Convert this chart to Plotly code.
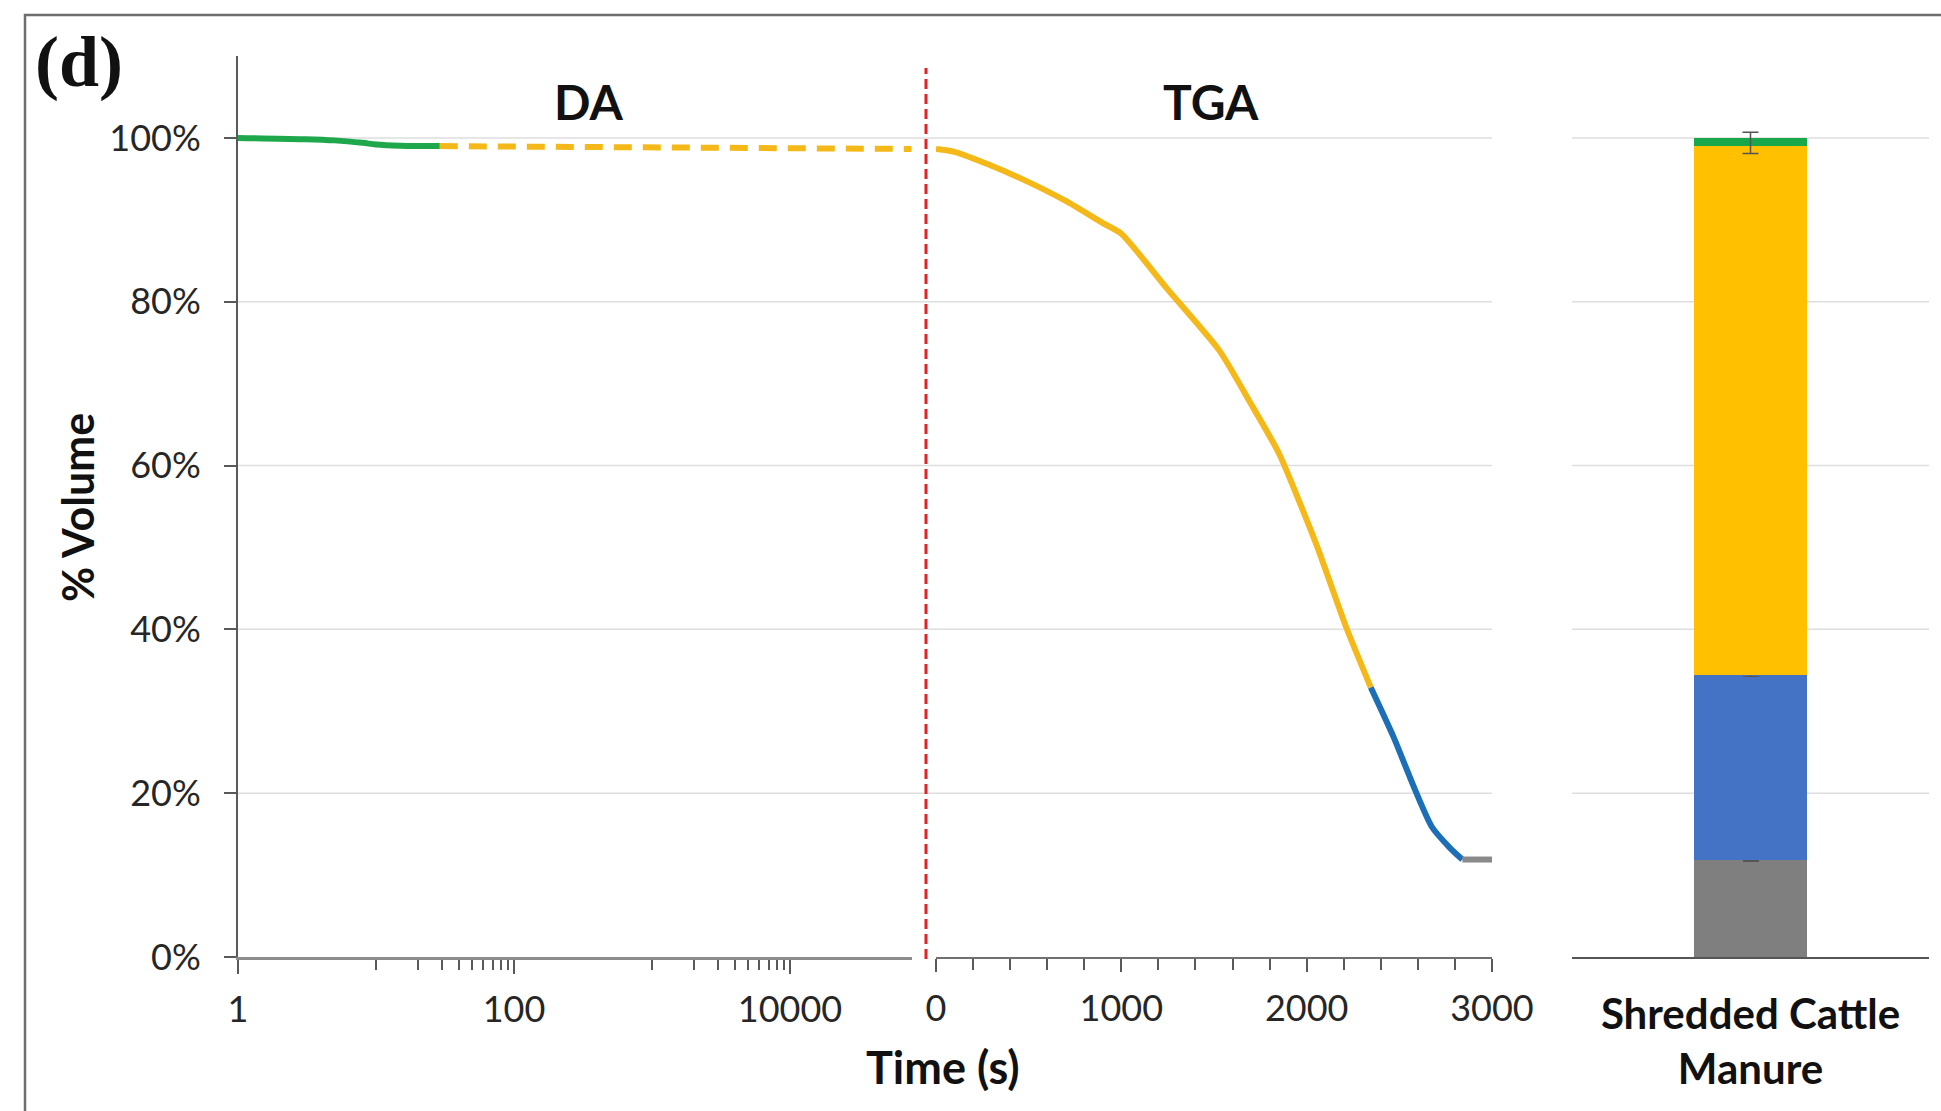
import plotly.graph_objects as go

W, H = 1941, 1111

# ---------------- data ----------------
# DA panel (log time axis)
da_green_t = [1, 3, 5, 8, 10, 15, 29]
da_green_v = [100.0, 99.85, 99.7, 99.4, 99.2, 99.05, 99.0]
da_dash_t = [29, 76000]
da_dash_v = [99.0, 98.65]

# TGA panel (linear time axis)
tga_org_t = [0, 100, 300, 500, 700, 900, 1000, 1250, 1530, 1700, 1850, 2050, 2216, 2346]
tga_org_v = [98.65, 98.3, 96.6, 94.6, 92.3, 89.6, 88.3, 81.5, 74.0, 67.5, 61.5, 50.5, 40.1, 32.9]
tga_blue_t = [2346, 2468, 2585, 2675, 2774, 2840]
tga_blue_v = [32.9, 26.9, 20.4, 15.9, 13.3, 11.9]
tga_gray_t = [2840, 3000]
tga_gray_v = [11.9, 11.9]

# Stacked bar
bar_cat = ["Shredded Cattle<br>Manure"]
bar_gray = [11.9]
bar_blue = [22.5]
bar_orange = [64.6]
bar_green = [1.0]
bar_top_err_y = [99.4]
bar_top_err = [1.3]
bar_small_err = [0.15]

# axes ticks
y_ticks = [0, 20, 40, 60, 80, 100]
y_ticktext = ["0%", "20%", "40%", "60%", "80%", "100%"]
da_ticks = [1, 100, 10000]
da_ticktext = ["1", "100", "10000"]
da_minor = [10, 20, 30, 40, 50, 60, 70, 80, 90, 100,
            1000, 2000, 3000, 4000, 5000, 6000, 7000, 8000, 9000, 10000]
tga_ticks = [0, 1000, 2000, 3000]

# ---------------- colours ----------------
C_GREEN_L = "#1ea84b"
C_YEL_L = "#f4b918"
C_BLUE_L = "#1c6fb6"
C_GRAY_L = "#8a8a8a"
C_GREEN_B = "#18a84b"
C_YEL_B = "#ffc000"
C_BLUE_B = "#4472c4"
C_GRAY_B = "#7f7f7f"

FONT = "Lato"

def px_x(p):
    return p / W

def px_y(p):
    return 1 - p / H

dom_da = [px_x(238), px_x(912)]
dom_tga = [px_x(936), px_x(1492)]
dom_bar = [px_x(1572), px_x(1929)]
dom_y = [px_y(957), px_y(56)]

fig = go.Figure()

LW = 6
fig.add_trace(go.Scatter(x=da_green_t, y=da_green_v, mode="lines",
                         line=dict(color=C_GREEN_L, width=LW, shape="spline"),
                         xaxis="x", yaxis="y", showlegend=False))
fig.add_trace(go.Scatter(x=da_dash_t, y=da_dash_v, mode="lines",
                         line=dict(color=C_YEL_L, width=LW, dash="18px,11px"),
                         xaxis="x", yaxis="y", showlegend=False))

fig.add_trace(go.Scatter(x=tga_org_t, y=tga_org_v, mode="lines",
                         line=dict(color=C_YEL_L, width=LW, shape="spline", smoothing=0.6),
                         xaxis="x2", yaxis="y", showlegend=False))
fig.add_trace(go.Scatter(x=tga_blue_t, y=tga_blue_v, mode="lines",
                         line=dict(color=C_BLUE_L, width=LW, shape="spline", smoothing=0.6),
                         xaxis="x2", yaxis="y", showlegend=False))
fig.add_trace(go.Scatter(x=tga_gray_t, y=tga_gray_v, mode="lines",
                         line=dict(color=C_GRAY_L, width=LW),
                         xaxis="x2", yaxis="y", showlegend=False))

err_style = dict(type="data", color="#555555", thickness=1.5, width=8)
fig.add_trace(go.Bar(x=bar_cat, y=bar_gray, marker=dict(color=C_GRAY_B, line=dict(width=0)),
                     width=0.316, xaxis="x3", yaxis="y", showlegend=False,
                     error_y=dict(array=bar_small_err, **err_style)))
fig.add_trace(go.Bar(x=bar_cat, y=bar_blue, marker=dict(color=C_BLUE_B, line=dict(width=0)),
                     width=0.316, xaxis="x3", yaxis="y", showlegend=False,
                     error_y=dict(array=bar_small_err, **err_style)))
fig.add_trace(go.Bar(x=bar_cat, y=bar_orange, marker=dict(color=C_YEL_B, line=dict(width=0)),
                     width=0.316, xaxis="x3", yaxis="y", showlegend=False))
fig.add_trace(go.Bar(x=bar_cat, y=bar_green, marker=dict(color=C_GREEN_B, line=dict(width=0)),
                     width=0.316, xaxis="x3", yaxis="y", showlegend=False))
fig.add_trace(go.Scatter(x=bar_cat, y=bar_top_err_y, mode="markers",
                         marker=dict(size=1, color="rgba(0,0,0,0)"),
                         error_y=dict(array=bar_top_err, **err_style),
                         xaxis="x3", yaxis="y", showlegend=False))

tickfont = dict(family=FONT, size=36, color="#262626")

shapes = []
# gridlines
for v in y_ticks[1:]:
    for x0, x1 in [(dom_da[0], dom_tga[1]), (dom_bar[0], dom_bar[1])]:
        shapes.append(dict(type="line", xref="paper", yref="y", x0=x0, x1=x1, y0=v, y1=v,
                           line=dict(color="#dedede", width=1.5), layer="below"))
# red dashed divider
shapes.append(dict(type="line", xref="paper", yref="paper",
                   x0=px_x(926), x1=px_x(926), y0=px_y(959), y1=px_y(68),
                   line=dict(color="#e32222", width=3, dash="10px,5px")))
# outer frame
shapes.append(dict(type="rect", xref="paper", yref="paper",
                   x0=px_x(25), x1=1.05, y0=-0.05, y1=px_y(15),
                   line=dict(color="#6e6e6e", width=2.5), fillcolor="rgba(0,0,0,0)"))

def lab_font(size):
    return dict(family=FONT, size=size, color="#111111", weight="bold")

annotations = [
    dict(text="% Volume", x=px_x(77), y=px_y(508), textangle=-90, font=lab_font(43)),
    dict(text="Time (s)", x=px_x(943), y=px_y(1067), font=lab_font(45)),
    dict(text="DA", x=px_x(588), y=px_y(101), font=lab_font(48)),
    dict(text="TGA", x=px_x(1211), y=px_y(101), font=lab_font(48)),
    dict(text="(d)", x=px_x(79), y=px_y(62),
         font=dict(family="Liberation Serif", size=72, color="#111111", weight="bold")),
]
for a in annotations:
    a.update(xref="paper", yref="paper", showarrow=False, xanchor="center", yanchor="middle")

fig.update_layout(
    width=W, height=H,
    margin=dict(l=0, r=0, t=0, b=0, autoexpand=False),
    paper_bgcolor="white", plot_bgcolor="white",
    barmode="stack",
    shapes=shapes,
    annotations=annotations,
    xaxis=dict(type="log", domain=dom_da, range=[0, 4.884], anchor="y", automargin=False,
               showline=True, linecolor="#8c8c8c", linewidth=3,
               tickmode="array", tickvals=da_ticks, ticktext=da_ticktext,
               ticks="outside", ticklen=14, tickwidth=1.5, tickcolor="#595959",
               minor=dict(tickmode="array", tickvals=da_minor, ticks="outside",
                          ticklen=10, tickwidth=1.5, tickcolor="#595959", showgrid=False),
               showgrid=False, zeroline=False, tickfont=tickfont, ticklabelstandoff=5),
    xaxis2=dict(domain=dom_tga, range=[0, 3000], anchor="y", automargin=False,
                showline=True, linecolor="#707070", linewidth=2,
                tickmode="array", tickvals=tga_ticks,
                ticks="outside", ticklen=13, tickwidth=1.5, tickcolor="#595959",
                minor=dict(dtick=200, tick0=0, ticks="outside", ticklen=11,
                           tickwidth=1.5, tickcolor="#595959", showgrid=False),
                showgrid=False, zeroline=False, tickfont=tickfont, ticklabelstandoff=6),
    xaxis3=dict(domain=dom_bar, type="category", range=[-0.5, 0.5], anchor="y", automargin=False,
                showline=True, linecolor="#555555", linewidth=2, ticks="",
                showgrid=False, zeroline=False, ticklabelstandoff=20,
                tickfont=dict(family=FONT, size=42, color="#111111", weight="bold")),
    yaxis=dict(domain=dom_y, range=[0, 110], anchor="x", automargin=False,
               showline=True, linecolor="#595959", linewidth=2,
               tickmode="array", tickvals=y_ticks, ticktext=y_ticktext,
               ticks="outside", ticklen=12, tickwidth=1.5, tickcolor="#595959",
               showgrid=False, zeroline=False, tickfont=tickfont, ticklabelstandoff=16),
)

fig.write_html("out.html")
